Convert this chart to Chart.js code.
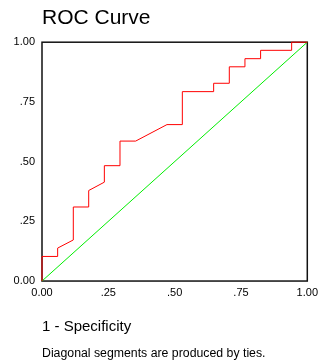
<!DOCTYPE html>
<html>
<head>
<meta charset="utf-8">
<script src="https://cdn.jsdelivr.net/npm/chart.js@4"></script>
<style>
  html, body { margin: 0; padding: 0; background: #fff; }
  #wrap { width: 320px; height: 362px; }
</style>
</head>
<body>
<div id="wrap"><canvas id="roc" width="320" height="362"></canvas></div>
<script>
// 1 - specificity (x) and sensitivity (y)
const fpr = [0, 0, 0.059, 0.059, 0.118, 0.118, 0.176, 0.176, 0.235, 0.235, 0.294, 0.294, 0.353, 0.471, 0.529, 0.529, 0.647, 0.647, 0.706, 0.706, 0.765, 0.765, 0.824, 0.824, 0.941, 0.941, 1];
const tpr = [0, 0.103, 0.103, 0.138, 0.172, 0.310, 0.310, 0.379, 0.414, 0.483, 0.483, 0.586, 0.586, 0.655, 0.655, 0.793, 0.793, 0.828, 0.828, 0.897, 0.897, 0.931, 0.931, 0.966, 0.966, 1, 1];
const refX = [0, 1];
const refY = [0, 1];
const tickValues = [0, 0.25, 0.5, 0.75, 1];
const tickLabels = ['0.00', '.25', '.50', '.75', '1.00'];

const FONT = "'Liberation Sans', Arial, sans-serif";

function toPoints(xs, ys) {
  return xs.map((x, i) => ({ x: x, y: ys[i] }));
}

function tickText(value) {
  const i = tickValues.findIndex(v => Math.abs(v - value) < 1e-6);
  return i >= 0 ? tickLabels[i] : '';
}

// frame around the plot, drawn under the lines
const frame = {
  id: 'frame',
  beforeDatasetsDraw(chart) {
    const a = chart.chartArea;
    const c = chart.ctx;
    c.save();
    c.strokeStyle = '#111';
    c.lineWidth = 1.5;
    c.strokeRect(a.left, a.top, a.right - a.left, a.bottom - a.top);
    c.restore();
  }
};

function renderRoc(canvasId) {
  const ctx = document.getElementById(canvasId);
  if (!ctx) return;
  new Chart(ctx, {
    type: 'scatter',
    data: {
      datasets: [
        { data: toPoints(fpr, tpr), showLine: true, borderColor: '#ff0000', borderWidth: 1, pointRadius: 0, clip: 3 },
        { data: toPoints(refX, refY), showLine: true, borderColor: '#00ee00', borderWidth: 1, pointRadius: 0, clip: 3 }
      ]
    },
    options: {
      responsive: false,
      animation: false,
      layout: { padding: { left: 0, right: 12, top: 0, bottom: 0 } },
      plugins: {
        legend: { display: false },
        tooltip: { enabled: false },
        title: {
          display: true, text: 'ROC Curve', align: 'start', fullSize: false,
          color: '#000', font: { family: FONT, size: 21, weight: 'normal' },
          padding: { top: 6, bottom: 11 }
        },
        subtitle: {
          display: true, text: 'Diagonal segments are produced by ties.', position: 'bottom',
          align: 'start', fullSize: false,
          color: '#000', font: { family: FONT, size: 12.3, weight: 'normal' },
          padding: { top: 5, bottom: 1 }
        }
      },
      scales: {
        x: {
          type: 'linear', min: 0, max: 1,
          grid: { display: false, drawTicks: true, tickLength: 3, tickColor: '#111' },
          border: { display: false },
          afterBuildTicks(axis) { axis.ticks = tickValues.map(v => ({ value: v })); },
          ticks: { callback: tickText, color: '#000', padding: 2, maxRotation: 0, font: { family: FONT, size: 11 } },
          title: {
            display: true, text: '1 - Specificity', align: 'start', color: '#000',
            font: { family: FONT, size: 15 }, padding: { top: 17, bottom: 5 }
          }
        },
        y: {
          type: 'linear', min: 0, max: 1,
          grid: { display: false, drawTicks: true, tickLength: 3, tickColor: '#111' },
          border: { display: false },
          afterBuildTicks(axis) { axis.ticks = tickValues.map(v => ({ value: v })); },
          afterFit(axis) { axis.width = 42; },
          ticks: { callback: tickText, color: '#000', padding: 4, font: { family: FONT, size: 11 } }
        }
      }
    },
    plugins: [frame]
  });
}

renderRoc('roc');
</script>
</body>
</html>
